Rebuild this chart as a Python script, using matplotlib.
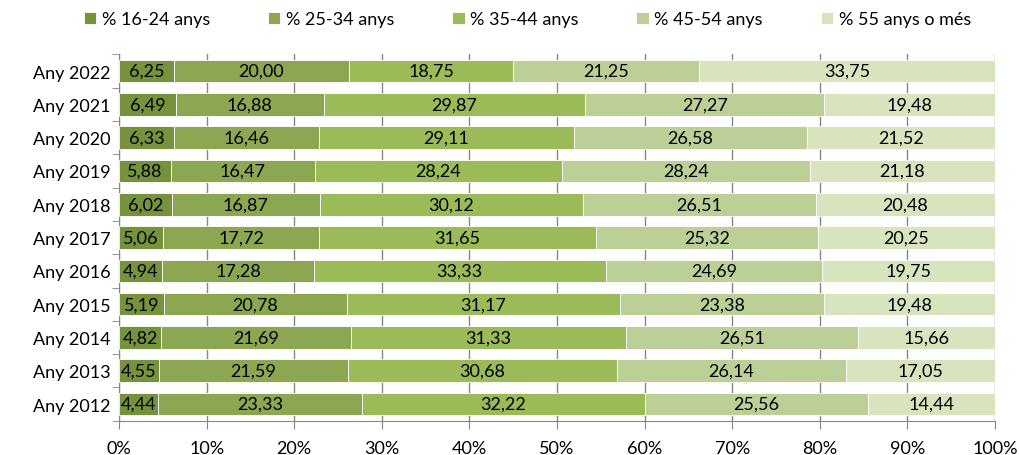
import matplotlib.pyplot as plt
import numpy as np

plt.rcParams['font.family'] = ['Lato', 'DejaVu Sans']

years = ['Any 2012', 'Any 2013', 'Any 2014', 'Any 2015', 'Any 2016', 'Any 2017',
         'Any 2018', 'Any 2019', 'Any 2020', 'Any 2021', 'Any 2022']
labels = ['% 16-24 anys', '% 25-34 anys', '% 35-44 anys', '% 45-54 anys', '% 55 anys o més']
g16_24 = [4.44, 4.55, 4.82, 5.19, 4.94, 5.06, 6.02, 5.88, 6.33, 6.49, 6.25]
g25_34 = [23.33, 21.59, 21.69, 20.78, 17.28, 17.72, 16.87, 16.47, 16.46, 16.88, 20.00]
g35_44 = [32.22, 30.68, 31.33, 31.17, 33.33, 31.65, 30.12, 28.24, 29.11, 29.87, 18.75]
g45_54 = [25.56, 26.14, 26.51, 23.38, 24.69, 25.32, 26.51, 28.24, 26.58, 27.27, 21.25]
g55 = [14.44, 17.05, 15.66, 19.48, 19.75, 20.25, 20.48, 21.18, 21.52, 19.48, 33.75]
colors = ['#76923C', '#8CA651', '#9BBB59', '#BBCF97', '#D7E4BD']

series = [g16_24, g25_34, g35_44, g45_54, g55]

fig = plt.figure(figsize=(10.19, 4.56), dpi=100)
ax = fig.add_axes([0.1168, 0.0752, 0.8597, 0.8033])

y = np.arange(len(years))
left = np.zeros(len(years))
for vals, col, lab in zip(series, colors, labels):
    vals = np.array(vals)
    bars = ax.barh(y, vals, left=left, height=0.68, color=col, label=lab,
                   edgecolor='white', linewidth=0.6, zorder=3)
    ax.bar_label(bars, labels=[('%.2f' % v).replace('.', ',') for v in vals],
                 label_type='center', fontsize=13, color='black')
    left += vals

ax.set_xlim(0, 100)
ax.set_ylim(-0.5, len(years) - 0.5)
ax.set_xticks(np.arange(0, 101, 10))
ax.set_xticklabels(['%d%%' % v for v in range(0, 101, 10)], fontsize=13)
ax.set_yticks(y)
ax.set_yticklabels(years, fontsize=13)
ax.set_yticks(np.arange(-0.5, len(years), 1), minor=True)
ax.tick_params(axis='y', which='major', length=0, pad=6)
ax.tick_params(axis='y', which='minor', length=5, color='#868686')
ax.tick_params(axis='x', length=6, color='#868686', pad=8)
ax.grid(axis='x', color='#868686', linewidth=1, zorder=0)
for s in ['top', 'right']:
    ax.spines[s].set_visible(False)
for s in ['left', 'bottom']:
    ax.spines[s].set_color('#868686')

ax.legend(loc='center', bbox_to_anchor=(0.466, 1.096), ncol=5, frameon=False,
          fontsize=13, handlelength=0.7, handleheight=0.7, handletextpad=0.3,
          columnspacing=3.2)

fig.savefig('out.png', dpi=100)
